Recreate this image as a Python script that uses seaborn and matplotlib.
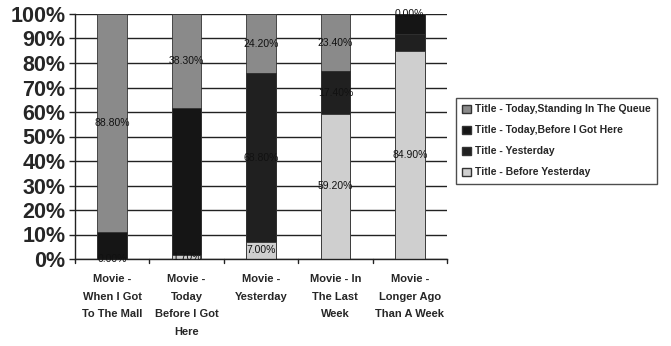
import numpy as np
import pandas as pd
import matplotlib
matplotlib.use("Agg")
import matplotlib.pyplot as plt
import seaborn as sns
from matplotlib.patches import Patch

categories = [
    "Movie -\nWhen I Got\nTo The Mall",
    "Movie -\nToday\nBefore I Got\nHere",
    "Movie -\nYesterday",
    "Movie - In\nThe Last\nWeek",
    "Movie -\nLonger Ago\nThan A Week",
]
# stacked bottom -> top
before_yesterday = [0.0, 1.7, 7.0, 59.2, 84.9]
yesterday = [0.0, 0.0, 68.8, 17.4, 7.0]
today_before = [11.2, 60.0, 0.0, 0.0, 8.1]
today_standing = [88.8, 38.3, 24.2, 23.4, 0.0]

series_names = [
    "Title - Before Yesterday",
    "Title - Yesterday",
    "Title - Today,Before I Got Here",
    "Title - Today,Standing In The Queue",
]
series_values = [before_yesterday, yesterday, today_before, today_standing]
series_colors = ["#cfcfcf", "#202020", "#151515", "#8a8a8a"]

sns.set_theme(style="white")
plt.rcParams["font.family"] = ["Liberation Sans", "DejaVu Sans"]

fig = plt.figure(figsize=(6.71, 3.46), dpi=100)
ax = fig.add_axes([75 / 671, 1 - 259 / 346, (447 - 75) / 671, (259 - 14) / 346])

# cumulative tops, drawn from the tallest stack down so lower segments overlay
stack = np.cumsum(np.array(series_values), axis=0)
rows = []
for s, name in enumerate(series_names):
    for i, cat in enumerate(categories):
        rows.append({"category": cat, "series": name, "top": stack[s, i]})
df = pd.DataFrame(rows)

for s in range(len(series_names) - 1, -1, -1):
    sub = df[df["series"] == series_names[s]]
    sns.barplot(data=sub, x="category", y="top", order=categories,
                color=series_colors[s], saturation=1, width=0.4,
                edgecolor="#333333", linewidth=0.6, ax=ax)

# value labels centred on each segment
for s in range(len(series_names)):
    for i in range(len(categories)):
        v = series_values[s][i]
        bottom = stack[s, i] - v
        show = (s == 0 and v < 10 and i < 3) or (s == 3 and i < 4) or \
               (s == 0 and v > 50) or (s == 1 and v > 10) or (s == 3 and i == 4)
        if not show:
            continue
        y = bottom + v / 2
        if s == 3 and v == 0:
            y = 100
        ax.text(i, y, f"{v:.2f}%", ha="center", va="center",
                fontsize=7.5, color="#111111")

ax.set_ylim(0, 100)
ax.set_xlim(-0.5, 4.5)
ax.set_yticks(np.arange(0, 101, 10))
ax.set_yticklabels([f"{t}%" for t in range(0, 101, 10)],
                   fontsize=15.5, fontweight="bold")
ax.yaxis.grid(True, color="#222222", linewidth=1)
ax.set_axisbelow(True)
ax.set_xlabel("")
ax.set_ylabel("")
ax.set_xticks(range(len(categories)))
ax.set_xticklabels(categories, fontsize=8, fontweight="bold", linespacing=1.95,
                   va="top")
ax.tick_params(axis="x", length=0, pad=11)
ax.tick_params(axis="y", direction="out", length=4, width=1, color="#222222",
               left=True, pad=3)
for t in np.arange(-0.5, 5, 1):
    ax.plot([t, t], [0, -1.6], color="#222222", lw=1, clip_on=False)

for side in ["top", "right"]:
    ax.spines[side].set_visible(False)
for side in ["left", "bottom"]:
    ax.spines[side].set_color("#222222")
    ax.spines[side].set_linewidth(1)

handles = [Patch(facecolor=series_colors[s], edgecolor="#333333", label=series_names[s])
           for s in range(len(series_names) - 1, -1, -1)]
fig.legend(handles=handles, loc="upper left", bbox_to_anchor=(451 / 671, 1 - 93 / 346),
           frameon=True, fancybox=False, edgecolor="#222222",
           prop={"size": 7.5, "weight": "bold"}, handlelength=0.8, handleheight=0.8,
           handletextpad=0.4, labelspacing=1.05, borderpad=0.6)

fig.savefig("out.png", dpi=100)
